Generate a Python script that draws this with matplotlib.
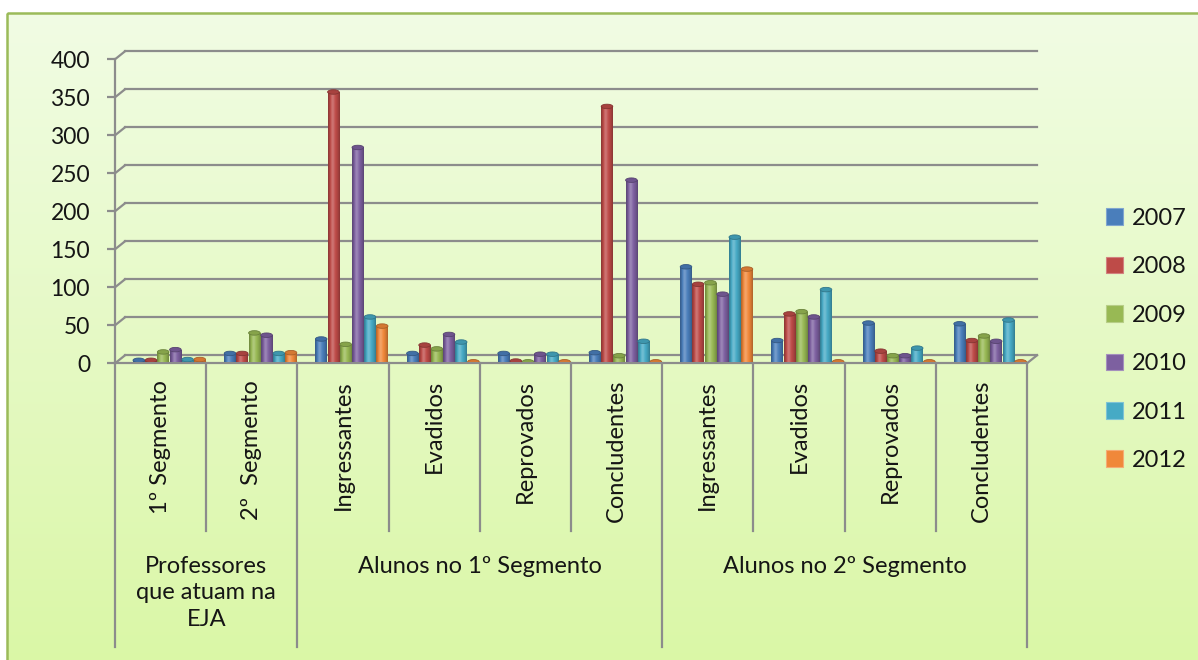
import numpy as np
import matplotlib
matplotlib.use("Agg")
import matplotlib.pyplot as plt
from matplotlib.patches import Rectangle, Ellipse, Patch
import matplotlib.colors as mcolors

plt.rcParams['font.family'] = ['Lato', 'DejaVu Sans']

# ---------------- data ----------------
categories = ["1º Segmento", "2º  Segmento",
              "Ingressantes", "Evadidos", "Reprovados", "Concludentes",
              "Ingressantes", "Evadidos", "Reprovados", "Concludentes"]
groups = ["Professores\nque atuam na\nEJA", "Alunos no 1º Segmento", "Alunos no 2º Segmento"]
group_spans = [(0, 2), (2, 6), (6, 10)]
years = ["2007", "2008", "2009", "2010", "2011", "2012"]

v2007 = [2, 11, 30, 11, 11, 12, 125, 28, 51, 50]
v2008 = [2, 11, 355, 22, 1, 336, 102, 63, 14, 28]
v2009 = [13, 38, 23, 17, 0, 8, 104, 66, 8, 34]
v2010 = [16, 35, 282, 36, 10, 239, 89, 59, 8, 27]
v2011 = [3, 11, 59, 26, 10, 27, 164, 95, 18, 55]
v2012 = [3, 12, 47, 0, 0, 0, 122, 0, 0, 0]
series = [v2007, v2008, v2009, v2010, v2011, v2012]

colors = ["#4a7ebb", "#be4b48", "#98b954", "#7d60a0", "#46aac5", "#f0883a"]
yticks = [0, 50, 100, 150, 200, 250, 300, 350, 400]

# ---------------- figure ----------------
W, H = 1198, 660
fig = plt.figure(figsize=(W / 100, H / 100), dpi=100, facecolor="white")

# background panel with gradient + green border
bg = fig.add_axes([0, 0, 1, 1], zorder=-10)
bg.set_xlim(0, W)
bg.set_ylim(H, 0)
bg.axis("off")
top_c = np.array(mcolors.to_rgb("#f1fce4"))
bot_c = np.array(mcolors.to_rgb("#daf7a6"))
t = np.linspace(0, 1, 256)[:, None]
grad = (top_c[None, :] * (1 - t) + bot_c[None, :] * t)[:, None, :]
bg.imshow(grad, extent=(7, W + 5, H + 5, 13), aspect="auto", zorder=0)
bg.add_patch(Rectangle((7, 13), W, H, fill=False, edgecolor="#9bbb59", lw=1.8, zorder=1))

# main axes (front frame)
x0, y0, pw, ph = 115, 363.3, 912, 304
ax = fig.add_axes([x0 / W, 1 - y0 / H, pw / W, ph / H])
ax.set_xlim(0, 10)
ax.set_ylim(0, 400)
ax.patch.set_alpha(0)
for s in ["top", "right", "bottom"]:
    ax.spines[s].set_visible(False)
gray = "#8c8c8c"
txtc = "#151515"
ax.spines["left"].set_color(gray)
ax.spines["left"].set_linewidth(1.6)
ax.set_yticks(yticks)
ax.set_yticklabels([str(v) for v in yticks])
ax.tick_params(axis="y", direction="out", length=6, width=1.6, color=gray,
               labelsize=16.5, labelcolor=txtc, pad=12)
ax.set_xticks([])

xppu = pw / 10.0
yppu = ph / 400.0
dx = 10 / xppu
dy = 8 / yppu

# back wall gridlines and diagonals
for v in yticks:
    ax.plot([0, dx], [v, v + dy], color=gray, lw=1.6, clip_on=False, zorder=1)
    ax.plot([dx, 10 + dx], [v + dy, v + dy], color=gray, lw=1.6, clip_on=False, zorder=1)
# floor
ax.plot([0, 10], [0, 0], color=gray, lw=1.6, clip_on=False, zorder=5)
ax.plot([10, 10 + dx], [0, dy], color=gray, lw=1.6, clip_on=False, zorder=5)

# table lines below
y_inner = -(530.7 - y0) / yppu
y_group = -(646.7 - y0) / yppu
group_bounds = {0, 2, 6, 10}
for i in range(11):
    yb = y_group if i in group_bounds else y_inner
    ax.plot([i, i], [0, yb], color=gray, lw=1.6, clip_on=False)

# category labels
y_lab = -(380 - y0) / yppu
for i, c in enumerate(categories):
    ax.text(i + 0.5, y_lab, c, rotation=90, ha="center", va="top",
            fontsize=17, color=txtc, clip_on=False)

# group labels
y_glab = -(556 - y0) / yppu
for g, (a, b) in zip(groups, group_spans):
    ax.text((a + b) / 2, y_glab, g, ha="center", va="top", fontsize=17,
            color=txtc, linespacing=1.32, clip_on=False)

# bars axes (slightly offset backwards)
axb = fig.add_axes([(x0 + 4) / W, 1 - (y0 - 1.5) / H, pw / W, ph / H], zorder=3)
axb.set_xlim(0, 10)
axb.set_ylim(0, 400)
axb.axis("off")
axb.patch.set_alpha(0)

bw = 12.2 / xppu
start = 14 / xppu
cap_h = 4.5 / yppu
xs = np.arange(10)


def shade(c, f):
    c = np.array(mcolors.to_rgb(c))
    if f > 0:
        return tuple(c + (1 - c) * f)
    return tuple(c * (1 + f))


for k, (vals, col) in enumerate(zip(series, colors)):
    lefts = xs + start + k * bw
    bars = axb.bar(lefts, vals, width=bw * 0.95, align="edge", color=col,
                   edgecolor="none", zorder=2)
    # cylinder shading
    prof = np.linspace(-1, 1, 64)
    fac = 0.25 * np.exp(-((prof + 0.25) / 0.35) ** 2) - 0.28 * prof ** 2
    row = np.array([shade(col, f) for f in fac])[None, :, :]
    for bar, v in zip(bars, vals):
        if v > 0:
            xl = bar.get_x()
            wdt = bar.get_width()
            im = axb.imshow(row, extent=(xl, xl + wdt, 0, v), aspect="auto",
                            zorder=2.5, interpolation="bilinear")
            im.set_clip_path(bar)
        cx = bar.get_x() + bar.get_width() / 2
        axb.add_patch(Ellipse((cx, v), bar.get_width(), cap_h,
                              facecolor=shade(col, -0.12), edgecolor=shade(col, -0.3),
                              lw=0.6, zorder=3))
axb.set_xlim(0, 10)
axb.set_ylim(0, 400)

# legend
handles = [Patch(facecolor=c, edgecolor=shade(c, 0.3), lw=0.8) for c in colors]
fig.legend(handles, years, loc="upper left", bbox_to_anchor=(1106 / W, 1 - 208 / H),
           frameon=False, fontsize=17, handlelength=0.7, handleheight=0.7,
           handletextpad=0.4, labelspacing=1.16, borderpad=0, borderaxespad=0,
           labelcolor=txtc)

fig.savefig("out.png", dpi=100, facecolor="white")
